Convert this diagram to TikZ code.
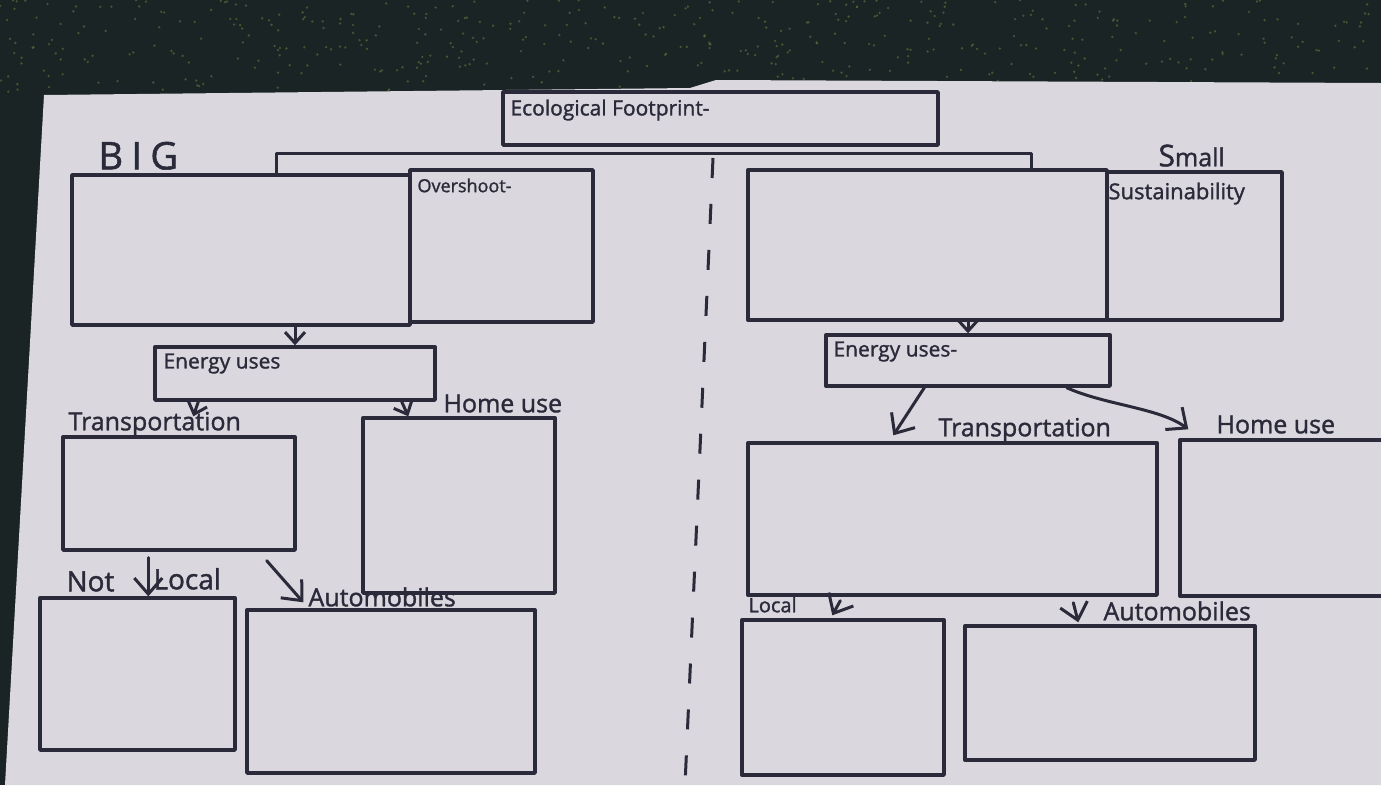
\documentclass[tikz,border=0pt]{standalone}
\usepackage{fontspec}
\setmainfont{Open Sans}
\newfontfamily\marker{Open Sans}[FakeBold=1.4]
\usetikzlibrary{arrows.meta}

\definecolor{ink}{HTML}{2B2A3A}
\definecolor{paper}{HTML}{DAD8DE}
\definecolor{carpet}{HTML}{1A2424}
\definecolor{fleck}{HTML}{5A6A3A}

\begin{document}
\begin{tikzpicture}[
  x=1pt, y=-1pt,
  box/.style={draw=ink, line width=3.4pt, line join=round, inner sep=0pt},
  lbl/.style={text=ink, inner sep=0pt, anchor=base west, font=\marker\fontsize{25}{27}\selectfont},
  inlbl/.style={text=ink, inner sep=0pt, anchor=north west, font=\marker\fontsize{21}{23}\selectfont},
  flow/.style={-{Straight Barb[length=11pt,width=20pt]}, draw=ink, line width=3pt, line cap=round},
  bigflow/.style={flow, -{Straight Barb[length=16pt,width=28pt]}},
  fold/.style={draw=ink, line width=3pt, dash pattern=on 20pt off 26pt}
]
  \clip (0,0) rectangle (1381,785);
  % carpet and sheet
  \fill[carpet] (0,0) rectangle (1381,785);
  \pgfmathsetseed{11}
  \foreach \i in {1,...,450}{
    \pgfmathsetmacro{\px}{rnd*1381}
    \pgfmathsetmacro{\py}{rnd*92}
    \fill[fleck, opacity=.7] (\px,\py) circle (1.3pt);
  }
  \fill[paper] (44,95) -- (690,88) -- (716,80) -- (1381,83) -- (1381,785) -- (5,785) -- cycle;

  % top
  \node[box, minimum width=435pt, minimum height=53pt] (eco) at (720.5,118.5) {};
  \node[inlbl] (ecolab) at ([shift={(9pt,-9pt)}]eco.north west) {Ecological Footprint-};

  % BIG side
  \node[box, minimum width=338pt, minimum height=150pt] (bigL) at (241,250) {};
  \node[box, minimum width=183pt, minimum height=152pt] (overL) at (501.5,246) {};
  \node[lbl, font=\marker\fontsize{38}{40}\selectfont\addfontfeature{LetterSpace=22}] (biglab) at ([shift={(28pt,4pt)}]bigL.north west) {BIG};
  \node[inlbl, font=\marker\fontsize{18}{20}\selectfont] (overlab) at ([shift={(9pt,-10pt)}]overL.north west) {Overshoot-};

  \node[box, minimum width=280pt, minimum height=53pt] (eneL) at (295,373.5) {};
  \node[inlbl] (enelabL) at ([shift={(10pt,-8pt)}]eneL.north west) {Energy uses};
  \node[box, minimum width=232pt, minimum height=113pt] (trL) at (179,493.5) {};
  \node[lbl] (trlabL) at ([shift={(7pt,5pt)}]trL.north west) {Transportation};
  \node[box, minimum width=192pt, minimum height=175pt] (homeL) at (459,505.5) {};
  \node[lbl] (homelabL) at ([shift={(82pt,4pt)}]homeL.north west) {Home use};
  \node[box, minimum width=195pt, minimum height=152pt] (notL) at (137.5,674) {};
  \node[lbl, font=\marker\fontsize{28}{30}\selectfont] (notlab) at ([shift={(28pt,5pt)}]notL.north west) {Not};
  \node[lbl, font=\marker\fontsize{28}{30}\selectfont] (loclabL) at ([shift={(115pt,7pt)}]notL.north west) {Local};
  \node[box, minimum width=288pt, minimum height=163pt] (autoL) at (391,691.5) {};
  \node[lbl] (autolabL) at ([shift={(63pt,2pt)}]autoL.north west) {Automobiles};

  \draw[flow] (bigL.south -| eneL.north) -- (eneL.north);
  \draw[flow] ([xshift=45pt]eneL.south west) -- ([shift={(132pt,19pt)}]trL.north west);
  \draw[flow] ([xshift=-35pt]eneL.south east) -- ([xshift=47pt]homeL.north west);
  \draw[bigflow] ([shift={(87pt,-6pt)}]trL.south west) -- ([xshift=110pt]notL.north west);
  \draw[bigflow] ([shift={(-30pt,-9pt)}]trL.south east) -- ([shift={(58pt,6pt)}]autoL.north west);

  % Small side
  \node[box, minimum width=359pt, minimum height=150pt] (bigR) at (927.5,245) {};
  \node[box, minimum width=175pt, minimum height=148pt] (sustR) at (1194.5,246) {};
  \node[lbl] (smalllab) at ([shift={(53pt,4pt)}]sustR.north west) {{\fontsize{30}{30}\selectfont S}mall};
  \node[inlbl, font=\marker\fontsize{22}{24}\selectfont] (sustlab) at ([shift={(3pt,-12pt)}]sustR.north west) {Sustainability};

  \node[box, minimum width=284pt, minimum height=51pt] (eneR) at (968,360.5) {};
  \node[inlbl] (enelabR) at ([shift={(9pt,-8pt)}]eneR.north west) {Energy uses-};
  \node[box, minimum width=409pt, minimum height=152pt] (trR) at (952.5,519) {};
  \node[lbl] (trlabR) at ([shift={(192pt,5pt)}]trR.north west) {Transportation};
  \node[box, minimum width=220pt, minimum height=156pt] (homeR) at (1290,518) {};
  \node[lbl] (homelabR) at ([shift={(38pt,5pt)}]homeR.north west) {Home use};
  \node[box, minimum width=202pt, minimum height=155pt] (locR) at (843,697.5) {};
  \node[lbl, font=\marker\fontsize{20}{22}\selectfont] (loclabR) at ([shift={(8pt,6pt)}]locR.north west) {Local};
  \node[box, minimum width=290pt, minimum height=134pt] (autoR) at (1110,693) {};
  \node[lbl] (autolabR) at ([shift={(140pt,4pt)}]autoR.north west) {Automobiles};

  \draw[flow] (bigR.south -| eneR.north) -- (eneR.north);
  \draw[bigflow] ([xshift=100pt]eneR.south west) -- ([shift={(147pt,6pt)}]trR.north west);
  \draw[bigflow] ([xshift=-45pt]eneR.south east) .. controls (1105,405) and (1160,408) .. ([shift={(10pt,9pt)}]homeR.north west);
  \draw[bigflow] ([shift={(94pt,-4pt)}]trR.south west) -- ([shift={(92pt,3pt)}]locR.north west);
  \draw[bigflow] ([shift={(327pt,-6pt)}]trR.south west) -- ([shift={(115pt,2pt)}]autoR.north west);

  % bracket and fold
  \draw[box] ([xshift=206pt]bigL.north west) |- ([yshift=-7pt]eco.south) -| ([xshift=-77pt]bigR.north east);
  \coordinate (foldtop) at (713,158);
  \coordinate (foldbot) at (685,785);
  \draw[fold] (foldtop) -- (foldbot);
\end{tikzpicture}
\end{document}
